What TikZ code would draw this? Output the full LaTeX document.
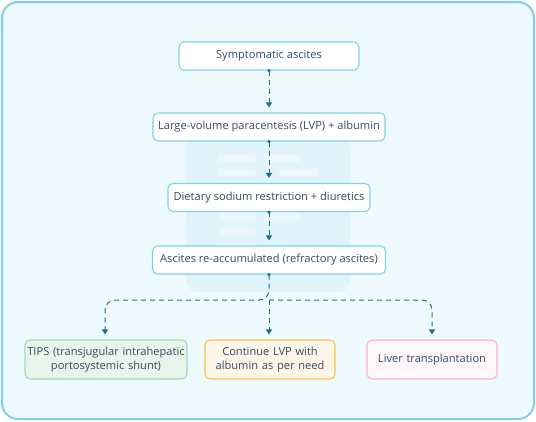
\documentclass[tikz,border=0pt]{standalone}
\usepackage{fontspec}
\setmainfont{Open Sans}
\usetikzlibrary{arrows.meta}
\definecolor{framebd}{HTML}{7CCFF3}
\definecolor{framebg}{HTML}{EFFAFE}
\definecolor{wmbg}{HTML}{E2F4FB}
\definecolor{boxbd}{HTML}{80D0F0}
\definecolor{txt}{HTML}{364C5E}
\definecolor{arr}{HTML}{1F6D8C}
\definecolor{gbd}{HTML}{A3D9B8}
\definecolor{gbg}{HTML}{E9F5EC}
\definecolor{ybd}{HTML}{F6C54C}
\definecolor{ybg}{HTML}{FFF5E9}
\definecolor{pbd}{HTML}{F3B5C9}
\definecolor{pbg}{HTML}{FDF7FA}
\tikzset{
  stepbox/.style={draw=boxbd, fill=white, line width=1.1pt, rounded corners=5pt,
    text=txt, font=\fontsize{11.1}{13.5}\selectfont, align=center, minimum height=28pt, inner xsep=2pt},
  endbox/.style={stepbox, minimum height=39pt, text width=#1},
  conn/.style={draw=arr, line width=1pt, dash pattern=on 5pt off 4pt,
    -{Triangle[length=5pt,width=6pt]}, shorten >=5pt},
  dotstart/.style={fill=arr, draw=none, circle, inner sep=0pt, minimum size=3.5pt}
}
\begin{document}
\begin{tikzpicture}[x=1pt,y=-1pt]
\useasboundingbox (0,0) rectangle (536,421);
\draw[framebd, fill=framebg, line width=2pt, rounded corners=16pt] (2,2) rectangle (534,419);
% watermark
\fill[wmbg, rounded corners=12pt] (186,135) rectangle (350,292);
\foreach \ya/\xa/\xb in {155/218/256,169/218/256,198/218/256,213/218/256,228/218/256,243/218/256}
  \fill[white, opacity=0.35, rounded corners=2pt] (\xa,\ya) rectangle (\xb,\ya+7);
\foreach \ya/\xa/\xb in {155/263/300,169/279/317,198/279/317,213/263/300}
  \fill[white, opacity=0.35, rounded corners=2pt] (\xa,\ya) rectangle (\xb,\ya+7);
% nodes
\node[stepbox, minimum width=180pt] (s1) at (269,56) {Symptomatic ascites};
\node[stepbox, minimum width=232pt] (s2) at (269,127) {Large-volume paracentesis (LVP) + albumin};
\node[stepbox, minimum width=202pt] (s3) at (269,197.5) {Dietary sodium restriction + diuretics};
\node[stepbox, minimum width=233pt] (s4) at (269,260) {Ascites re-accumulated (refractory ascites)};
\node[endbox=158pt, draw=gbd, fill=gbg] (t1) at (106,359.5) {TIPS (transjugular intrahepatic\\portosystemic shunt)};
\node[endbox=126pt, draw=ybd, fill=ybg] (t2) at (270,359.5) {Continue LVP with\\albumin as per need};
\node[endbox=126pt, draw=pbd, fill=pbg] (t3) at (432,359.5) {Liver transplantation};
% connectors
\draw[conn] (s1.south) -- (s2.north);
\draw[conn] (s2.south) -- (s3.north);
\draw[conn] (s3.south) -- (s4.north);
\coordinate (br) at (269,300);
\draw[conn, rounded corners=10pt] (s4.south) -- (br) -| (t1.north -| 105,0);
\draw[conn, rounded corners=10pt] (br) -| (t3.north);
\draw[conn] (br) -- (t2.north -| br);
\foreach \n in {s1,s2,s3,s4} \node[dotstart] at (\n.south) {};
\end{tikzpicture}
\end{document}
